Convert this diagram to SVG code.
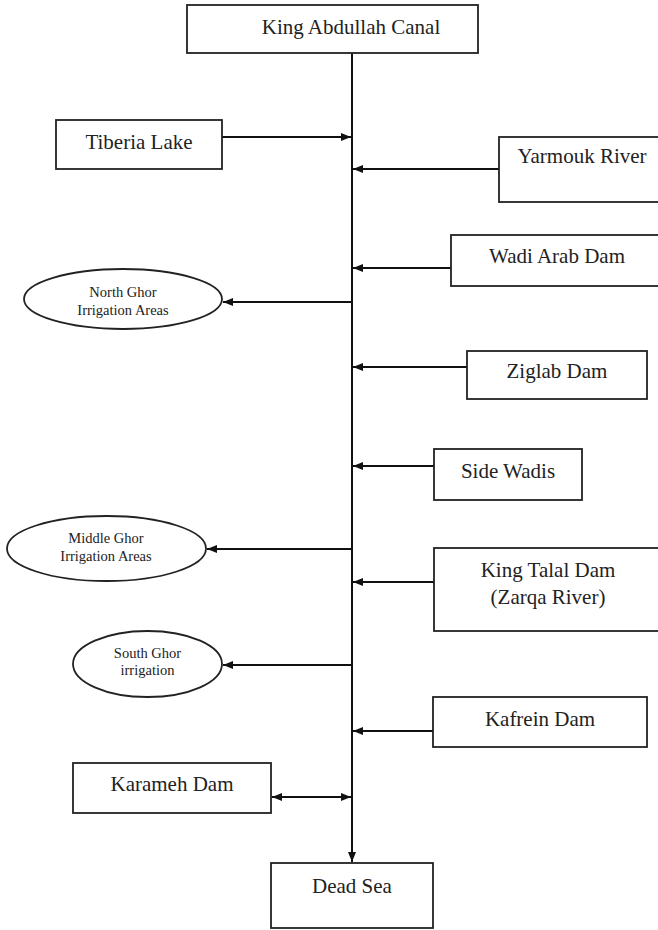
<svg xmlns="http://www.w3.org/2000/svg" width="658" height="930" viewBox="0 0 658 930">
<style>
.box{fill:#fff;stroke:#222;stroke-width:1.8}
.t{font-family:"Liberation Serif","Times New Roman",serif;font-size:21px;fill:#222;text-anchor:middle}
.s{font-family:"Liberation Serif","Times New Roman",serif;font-size:14.5px;fill:#222;text-anchor:middle}
.c{stroke:#111;stroke-width:2;fill:none}
</style>
<defs>
<marker id="ah" viewBox="0 0 10 8" refX="10" refY="4" markerWidth="10" markerHeight="8" markerUnits="userSpaceOnUse" orient="auto-start-reverse">
<path d="M0,0 L10,4 L0,8 z" fill="#111"/>
</marker>
</defs>
<rect width="658" height="930" fill="#fff"/>
<g id="connectors">
<line class="c" x1="352" y1="53" x2="352" y2="862" marker-end="url(#ah)"/>
<line class="c" x1="222" y1="137" x2="351" y2="137" marker-end="url(#ah)"/>
<line class="c" x1="499" y1="169" x2="353" y2="169" marker-end="url(#ah)"/>
<line class="c" x1="451" y1="268" x2="353" y2="268" marker-end="url(#ah)"/>
<line class="c" x1="352" y1="302" x2="223" y2="302" marker-end="url(#ah)"/>
<line class="c" x1="467" y1="367" x2="353" y2="367" marker-end="url(#ah)"/>
<line class="c" x1="434" y1="466" x2="353" y2="466" marker-end="url(#ah)"/>
<line class="c" x1="352" y1="549" x2="207" y2="549" marker-end="url(#ah)"/>
<line class="c" x1="434" y1="582" x2="353" y2="582" marker-end="url(#ah)"/>
<line class="c" x1="352" y1="665" x2="223" y2="665" marker-end="url(#ah)"/>
<line class="c" x1="433" y1="731" x2="353" y2="731" marker-end="url(#ah)"/>
<line class="c" x1="272" y1="797" x2="351" y2="797" marker-start="url(#ah)" marker-end="url(#ah)"/>
</g>
<g id="king-abdullah-canal"><rect class="box" x="187" y="5" width="291" height="48"/><text class="t" x="351" y="34">King Abdullah Canal</text></g>
<g id="tiberia-lake"><rect class="box" x="56" y="120" width="166" height="49"/><text class="t" x="139" y="149">Tiberia Lake</text></g>
<g id="yarmouk-river"><rect class="box" x="499" y="137" width="170" height="65"/><text class="t" x="582" y="163">Yarmouk River</text></g>
<g id="wadi-arab-dam"><rect class="box" x="451" y="235" width="215" height="51"/><text class="t" x="557" y="263">Wadi Arab Dam</text></g>
<g id="north-ghor"><ellipse class="box" cx="123" cy="299" rx="99" ry="30"/><text class="s" x="123" y="297">North Ghor</text><text class="s" x="123" y="315">Irrigation Areas</text></g>
<g id="ziglab-dam"><rect class="box" x="467" y="351" width="180" height="48"/><text class="t" x="557" y="378">Ziglab Dam</text></g>
<g id="side-wadis"><rect class="box" x="434" y="449" width="148" height="51"/><text class="t" x="508" y="478">Side Wadis</text></g>
<g id="middle-ghor"><ellipse class="box" cx="106.5" cy="548.5" rx="99.5" ry="32.5"/><text class="s" x="106" y="543">Middle Ghor</text><text class="s" x="106" y="561">Irrigation Areas</text></g>
<g id="king-talal-dam"><rect class="box" x="434" y="548" width="232" height="83"/><text class="t" x="548" y="577">King Talal Dam</text><text class="t" x="548" y="604">(Zarqa River)</text></g>
<g id="south-ghor"><ellipse class="box" cx="147.5" cy="664" rx="74.5" ry="33"/><text class="s" x="147.5" y="658">South Ghor</text><text class="s" x="147.5" y="675">irrigation</text></g>
<g id="kafrein-dam"><rect class="box" x="433" y="697" width="214" height="50"/><text class="t" x="540" y="726">Kafrein Dam</text></g>
<g id="karameh-dam"><rect class="box" x="73" y="763" width="198" height="50"/><text class="t" x="172" y="791">Karameh Dam</text></g>
<g id="dead-sea"><rect class="box" x="271" y="863" width="162" height="65"/><text class="t" x="352" y="893">Dead Sea</text></g>
</svg>
